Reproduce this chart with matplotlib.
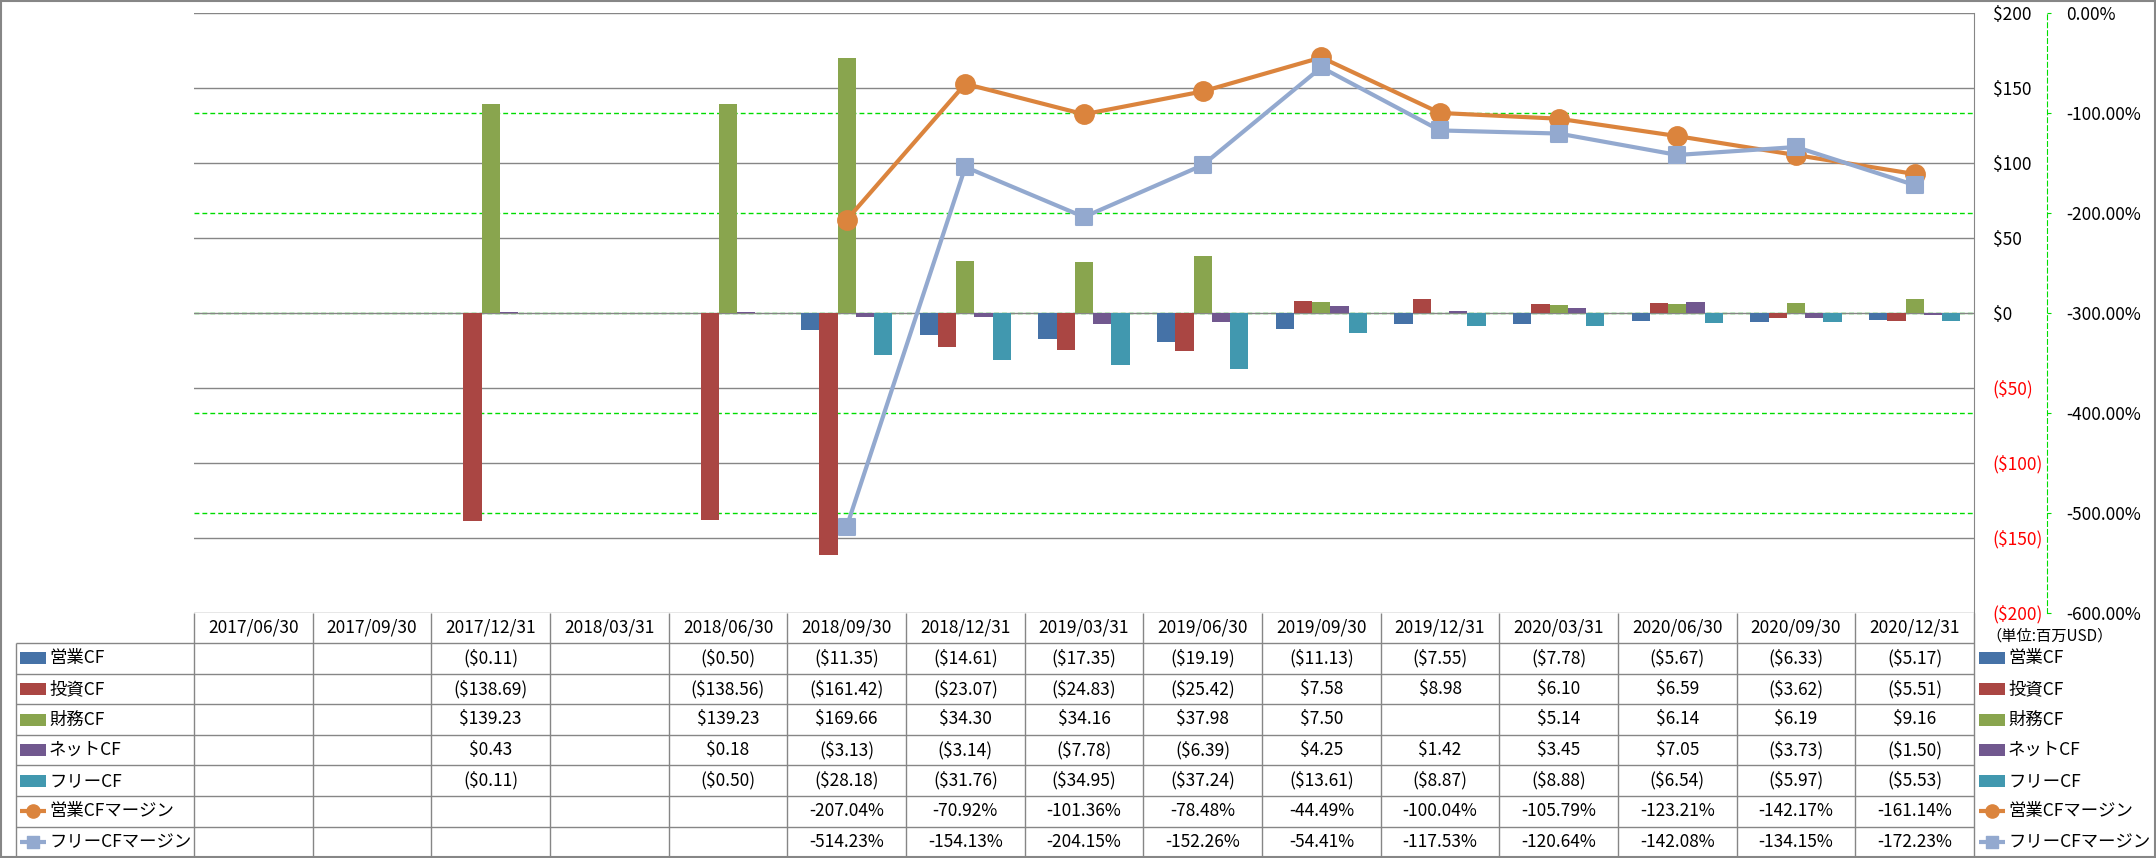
import matplotlib.pyplot as plt
import numpy as np
from matplotlib.patches import Rectangle
from matplotlib.lines import Line2D
from matplotlib.markers import MarkerStyle
from matplotlib.transforms import blended_transform_factory

plt.rcParams['font.family'] = ['Noto Sans CJK JP', 'DejaVu Sans']
plt.rcParams['text.parse_math'] = False
plt.rcParams['lines.scale_dashes'] = False

nan = np.nan
dates = ['2017/06/30', '2017/09/30', '2017/12/31', '2018/03/31', '2018/06/30',
         '2018/09/30', '2018/12/31', '2019/03/31', '2019/06/30', '2019/09/30',
         '2019/12/31', '2020/03/31', '2020/06/30', '2020/09/30', '2020/12/31']

eigyo_cf = [nan, nan, -0.11, nan, -0.50, -11.35, -14.61, -17.35, -19.19, -11.13, -7.55, -7.78, -5.67, -6.33, -5.17]
toshi_cf = [nan, nan, -138.69, nan, -138.56, -161.42, -23.07, -24.83, -25.42, 7.58, 8.98, 6.10, 6.59, -3.62, -5.51]
zaimu_cf = [nan, nan, 139.23, nan, 139.23, 169.66, 34.30, 34.16, 37.98, 7.50, nan, 5.14, 6.14, 6.19, 9.16]
net_cf = [nan, nan, 0.43, nan, 0.18, -3.13, -3.14, -7.78, -6.39, 4.25, 1.42, 3.45, 7.05, -3.73, -1.50]
free_cf = [nan, nan, -0.11, nan, -0.50, -28.18, -31.76, -34.95, -37.24, -13.61, -8.87, -8.88, -6.54, -5.97, -5.53]
eigyo_margin = [nan, nan, nan, nan, nan, -207.04, -70.92, -101.36, -78.48, -44.49, -100.04, -105.79, -123.21, -142.17, -161.14]
free_margin = [nan, nan, nan, nan, nan, -514.23, -154.13, -204.15, -152.26, -54.41, -117.53, -120.64, -142.08, -134.15, -172.23]

bar_names = ['営業CF', '投資CF', '財務CF', 'ネットCF', 'フリーCF']
line_names = ['営業CFマージン', 'フリーCFマージン']
bar_series = [eigyo_cf, toshi_cf, zaimu_cf, net_cf, free_cf]
line_series = [eigyo_margin, free_margin]

bar_colors = ['#4572A7', '#AA4643', '#89A54E', '#71588F', '#4198AF']
line_colors = ['#DB843D', '#93A9CF']
line_markers = ['o', 's']
grid_gray = '#868686'
green = '#00DD00'
fs = 12.5

# layout in pixels
W, H = 2156, 858
PL, PR, PT, PB = 194, 1974, 13, 612.5
TAB_TOP, ROW_H, COL0 = 643, 30.6, 16
TAB_BOT = TAB_TOP + 7 * ROW_H


def money(v):
    return f'(${abs(v):.2f})' if v < 0 else f'${v:.2f}'


def money_tick(v):
    return f'(${abs(v):.0f})' if v < 0 else f'${v:.0f}'


fig = plt.figure(figsize=(W / 100, H / 100), dpi=100)
ax = fig.add_axes([PL / W, 1 - PB / H, (PR - PL) / W, (PB - PT) / H])

n = len(dates)
x = np.arange(n)
bw = 1 / 6.5
for k, (vals, c) in enumerate(zip(bar_series, bar_colors)):
    ax.bar(x + (k - 2) * bw, vals, bw, color=c, zorder=2)

ax2 = ax.twinx()
for vals, c, m in zip(line_series, line_colors, line_markers):
    ms = 13.5 if m == 'o' else 11.5
    ax2.plot(x, vals, color=c, lw=3, marker=MarkerStyle(m, joinstyle='round'),
             ms=ms, mew=1.5, mec=c, zorder=3)

ax.set_xlim(-0.5, n - 0.5)
ax.set_ylim(-200, 200)
ax2.set_ylim(-600, 0)

usd_ticks = np.arange(-200, 201, 50)
ax.yaxis.tick_right()
ax.set_yticks(usd_ticks)
ax.set_yticklabels([money_tick(v) for v in usd_ticks])
for lab, v in zip(ax.get_yticklabels(), usd_ticks):
    lab.set_color('red' if v < 0 else 'black')
ax.tick_params(axis='y', length=0, pad=13.5, labelsize=fs)
ax.set_xticks([])
ax.grid(axis='y', color=grid_gray, lw=1)
ax.set_axisbelow(True)
for s in ['left', 'top', 'bottom']:
    ax.spines[s].set_visible(False)
ax.spines['right'].set_color(grid_gray)

pct_ticks = np.arange(-600, 1, 100)
trans = blended_transform_factory(ax.transAxes, ax2.transData)
for v in pct_ticks[1:-1]:
    ax.add_line(Line2D([0, 1], [v, v], transform=trans, color=green, lw=1,
                       dashes=(3.5, 2.2), zorder=0.3))

ax2.set_yticks(pct_ticks)
ax2.set_yticklabels([f'{v:.2f}%' for v in pct_ticks])
for lab, v in zip(ax2.get_yticklabels(), pct_ticks):
    lab.set_color('red' if v < 0 else 'black')
ax2.tick_params(axis='y', direction='out', length=3, width=0.8, color=green,
                pad=11, labelsize=fs)
for s in ['left', 'top', 'bottom']:
    ax2.spines[s].set_visible(False)
ax2.spines['right'].set_position(('outward', (2047 - PR) * 0.72))
ax2.spines['right'].set_color(green)
ax2.spines['right'].set_linestyle((0, (3.5, 2.2)))
ax2.spines['right'].set_linewidth(0.8)

# data table drawn in pixel coordinates
tab = fig.add_axes([0, 0, 1, 1])
tab.set_xlim(0, W)
tab.set_ylim(H, 0)
tab.axis('off')
line_kw = dict(color=grid_gray, lw=1, solid_capstyle='butt')
col_w = (PR - PL) / n

for i in range(n + 1):
    xx = PL + i * col_w
    tab.plot([xx, xx], [PB, TAB_BOT], **line_kw)
for r in range(8):
    yy = TAB_TOP + r * ROW_H
    tab.plot([COL0, PR], [yy, yy], **line_kw)
tab.plot([COL0, COL0], [TAB_TOP, TAB_BOT], **line_kw)

for i, d in enumerate(dates):
    tab.text(PL + (i + 0.5) * col_w, (PB + TAB_TOP) / 2, d, ha='center', va='center', fontsize=fs)

rows = [(nm, vals, money) for nm, vals in zip(bar_names, bar_series)]
rows += [(nm, vals, lambda v: f'{v:.2f}%') for nm, vals in zip(line_names, line_series)]
for r, (nm, vals, fmt) in enumerate(rows):
    yc = TAB_TOP + (r + 0.5) * ROW_H
    for i, v in enumerate(vals):
        if not np.isnan(v):
            tab.text(PL + (i + 0.5) * col_w, yc, fmt(v), ha='center', va='center', fontsize=fs)


def legend_key(x0, yc, r):
    if r < 5:
        tab.add_patch(Rectangle((x0, yc - 6), 26, 12, color=bar_colors[r], lw=0))
    else:
        c = line_colors[r - 5]
        m = line_markers[r - 5]
        tab.plot([x0, x0 + 26], [yc, yc], color=c, lw=3, solid_capstyle='butt')
        tab.plot([x0 + 13], [yc], marker=MarkerStyle(m, joinstyle='round'),
                 color=c, ms=9.5 if m == 'o' else 8.5, mew=1, mec=c)


all_names = bar_names + line_names
for r, nm in enumerate(all_names):
    yc = TAB_TOP + (r + 0.5) * ROW_H
    legend_key(20, yc, r)
    tab.text(49, yc, nm, ha='left', va='center', fontsize=fs)
    legend_key(1979, yc, r)
    tab.text(2008, yc, nm, ha='left', va='center', fontsize=fs)

tab.text(1986, 636, '（単位:百万USD）', ha='left', va='center', fontsize=11)

tab.add_patch(Rectangle((1, 1), W - 2.5, H - 2.5, fill=False, edgecolor=grid_gray, lw=1.5))

fig.savefig('out.png', dpi=100)
